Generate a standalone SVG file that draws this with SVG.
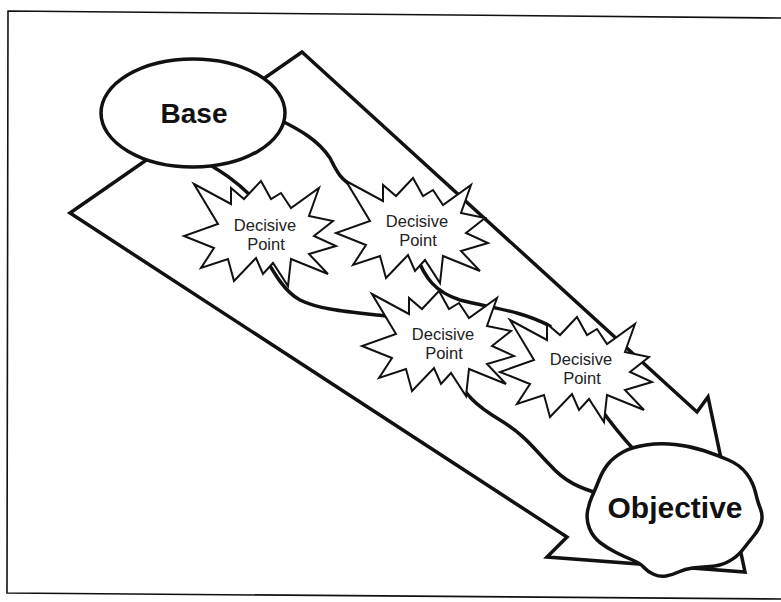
<svg xmlns="http://www.w3.org/2000/svg" xmlns:xlink="http://www.w3.org/1999/xlink" width="781" height="602" viewBox="0 0 781 602">
<style>
.frame{fill:none;stroke:#111;stroke-width:1.6}
.shape{fill:#fff;stroke:#111;stroke-width:3.5;stroke-linejoin:miter}
.star{fill:#fff;stroke:#111;stroke-width:2;stroke-linejoin:miter}
.conn{fill:none;stroke:#111;stroke-width:3.5;stroke-linecap:round}
.big{font-family:"Liberation Sans",Arial,sans-serif;font-weight:bold;fill:#111;text-anchor:middle}
.small{font-family:"Liberation Sans",Arial,sans-serif;font-size:16.5px;fill:#222;text-anchor:middle}
</style>
<defs>
<path id="starShape" d="M-67,-47 L-30,-27 L-30,-43 L-17,-32 L0,-50 L10,-32 L20,-38 L30,-23 L58,-43 L48,-15 L72,-10 L53,5 L75,15 L48,23 L67,43 L30,28 L27,55 L12,32 L2,43 L-5,27 L-27,50 L-33,28 L-60,37 L-47,17 L-77,5 L-43,-7 Z"/>
</defs>
<rect width="781" height="602" fill="#fff"/>
<path class="frame" d="M781,18 L8,11 L7,593 L781,599"/>
<g id="arrow">
<path class="shape" d="M302,52 L697,412 L708,397 L745,572 L547,557 L567,537 L70,213 Z"/>
</g>
<g id="connectors">
<path class="conn" d="M280,120 C300,130 318,140 330,158 C336,170 340,180 356,188"/>
<path class="conn" d="M205,162 C222,172 235,180 252,197"/>
<path class="conn" d="M262,252 C275,275 285,292 300,300 C320,310 350,312 386,316"/>
<path class="conn" d="M416,255 C425,278 435,292 460,300 C490,308 520,310 550,326"/>
<path class="conn" d="M452,370 C465,395 475,405 500,420 C525,435 535,450 550,465 C565,482 580,488 600,494"/>
<path class="conn" d="M598,405 C612,425 622,437 636,452"/>
</g>
<g id="base">
<ellipse class="shape" cx="193" cy="113" rx="92" ry="54"/>
<text class="big" x="194" y="123" font-size="28">Base</text>
</g>
<g id="dp1">
<use xlink:href="#starShape" class="star" transform="translate(261,231)"/>
<text class="small" x="265" y="231">Decisive</text>
<text class="small" x="266" y="250">Point</text>
</g>
<g id="dp2">
<use xlink:href="#starShape" class="star" transform="translate(413,228)"/>
<text class="small" x="417" y="227">Decisive</text>
<text class="small" x="418" y="246">Point</text>
</g>
<g id="dp3">
<use xlink:href="#starShape" class="star" transform="translate(439,341)"/>
<text class="small" x="443" y="340">Decisive</text>
<text class="small" x="444" y="359">Point</text>
</g>
<g id="dp4">
<use xlink:href="#starShape" class="star" transform="translate(577,367)"/>
<text class="small" x="581" y="365">Decisive</text>
<text class="small" x="582" y="384">Point</text>
</g>
<g id="objective">
<path class="shape" d="M646,445 Q660,443 675,444.5 Q690,446 703.5,450.5 Q717,455 728.5,460 Q740,465 746.5,473.5 Q753,482 755.5,492.5 Q758,503 760.5,509 Q763,515 761.5,521.5 Q760,528 754,535.5 Q748,543 742.5,550 Q737,557 728.5,561.5 Q720,566 710,566.5 Q700,567 692.5,568 Q685,569 678.5,572 Q672,575 666,576 Q660,577 654,574.5 Q648,572 644,567.5 Q640,563 632.5,560 Q625,557 616,552.5 Q607,548 600,542.5 Q593,537 589.5,528.5 Q586,520 587.5,511.5 Q589,503 592,496.5 Q595,490 599,480 Q603,470 608.5,463.5 Q614,457 623,452 Q632,447 646,445 Z"/>
<text class="big" x="675" y="518" font-size="30">Objective</text>
</g>
</svg>
